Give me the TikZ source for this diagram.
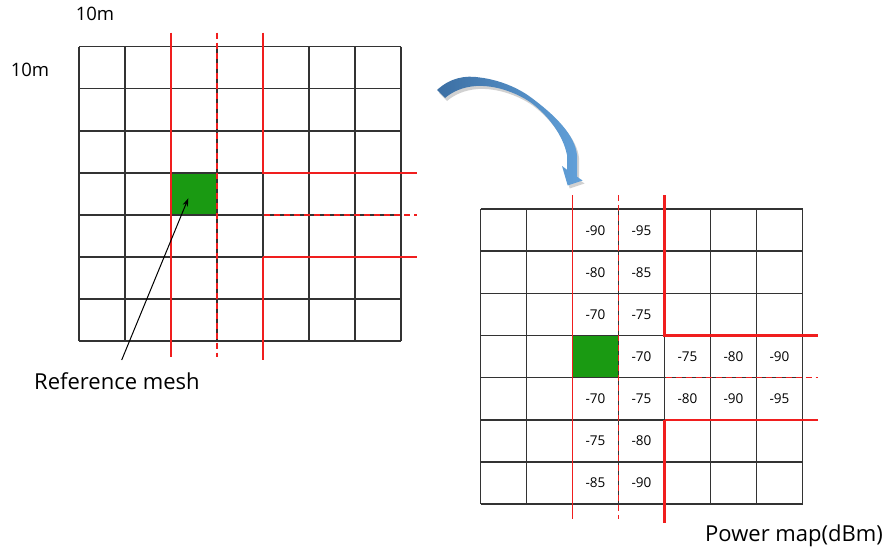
\documentclass[tikz,border=0pt]{standalone}
\usepackage{fontspec}
\setmainfont{Open Sans}
\usetikzlibrary{arrows.meta}
\definecolor{cellgreen}{HTML}{1A9A12}
\definecolor{redl}{HTML}{F01E1E}
\definecolor{arrowdark}{HTML}{3C6FA3}
\definecolor{arrowlight}{HTML}{62A1DA}
\newcommand\meshlines{%
  \fill[cellgreen] (92,126.2) rectangle (138,168.3);
  \foreach \i in {0,...,7} \draw[gridline] (\i*46,0) -- (\i*46,294.5);
  \foreach \j in {0,...,7} \draw[gridline] (0,\j*42.07) -- (322,\j*42.07);
  \draw[redsolid] (92,-14) -- (92,310);
  \draw[reddash] (138,-14) -- (138,310);
  \draw[redthick] (184,-14) -- (184,126.2) -- (337.5,126.2);
  \draw[reddash] (185,168.3) -- (337.5,168.3);
  \draw[redsolid] (337.5,210.4) -- (184,210.4);
  \draw[redthick] (184,210.4) -- (184,313.5);
}
\newcommand\bluearrow[1]{%
  \path[#1] (437,90) .. controls (450,78) and (465,75) .. (480,77.5)
    .. controls (500,80) and (518,88) .. (530,96.7)
    .. controls (555,115) and (575,135) .. (577,155)
    -- (577,176.7) -- (582.5,180.5) -- (567.7,185.5) -- (562,166) -- (567,169.7)
    -- (567,155)
    .. controls (563,135) and (548,115) .. (530,102)
    .. controls (515,92) and (495,85) .. (476,86)
    .. controls (462,87) and (452,92) .. (445,98) -- cycle;
}
\begin{document}
\begin{tikzpicture}[x=1pt,y=-1pt,
  gridline/.style={line width=1.8pt,black!80},
  redsolid/.style={line width=1.6pt,redl},
  redthick/.style={line width=2.2pt,redl},
  reddash/.style={line width=1.6pt,redl,dash pattern=on 6pt off 4pt},
  val/.style={font=\fontsize{13.5}{15}\selectfont,inner sep=0pt},
  lbl/.style={font=\fontsize{18.5}{20}\selectfont,inner sep=0pt},
  big/.style={font=\fontsize{22}{24}\selectfont,inner sep=0pt}]
\useasboundingbox (0,0) rectangle (890,554);
% left mesh
\begin{scope}[shift={(79,46.5)}]
  \meshlines
\end{scope}
% right mesh (power map)
\begin{scope}[shift={(480.5,209.3)}]
  \meshlines
  \foreach \c/\r/\v [count=\k] in {3/1/-90,4/1/-95,3/2/-80,4/2/-85,3/3/-70,4/3/-75,
      4/4/-70,5/4/-75,6/4/-80,7/4/-90,
      3/5/-70,4/5/-75,5/5/-80,6/5/-90,7/5/-95,
      3/6/-75,4/6/-80,3/7/-85,4/7/-90}
    \node[val] (v\k) at ({(\c-0.5)*46},{(\r-0.5)*42.07}) {\v};
\end{scope}
% labels
\node[lbl] (topten) at (95,14) {10m};
\node[lbl] (sideten) at (30,70) {10m};
\node[big,anchor=west] (reflabel) at (34,381) {Reference mesh};
\node[big,anchor=west] (powerlabel) at (705,536) {Power map(dBm)};
% pointer to reference mesh
\coordinate (refstart) at (121.7,360);
\coordinate (reftip) at (188.3,198.3);
\draw[line width=1pt,-{Stealth[length=8pt,width=5.5pt]}] (refstart) -- (reftip);
% blue curved arrow
\bluearrow{fill=black,opacity=0.18,shift={(2,3)}}
\bluearrow{left color=arrowdark,right color=arrowlight}
\end{tikzpicture}
\end{document}
